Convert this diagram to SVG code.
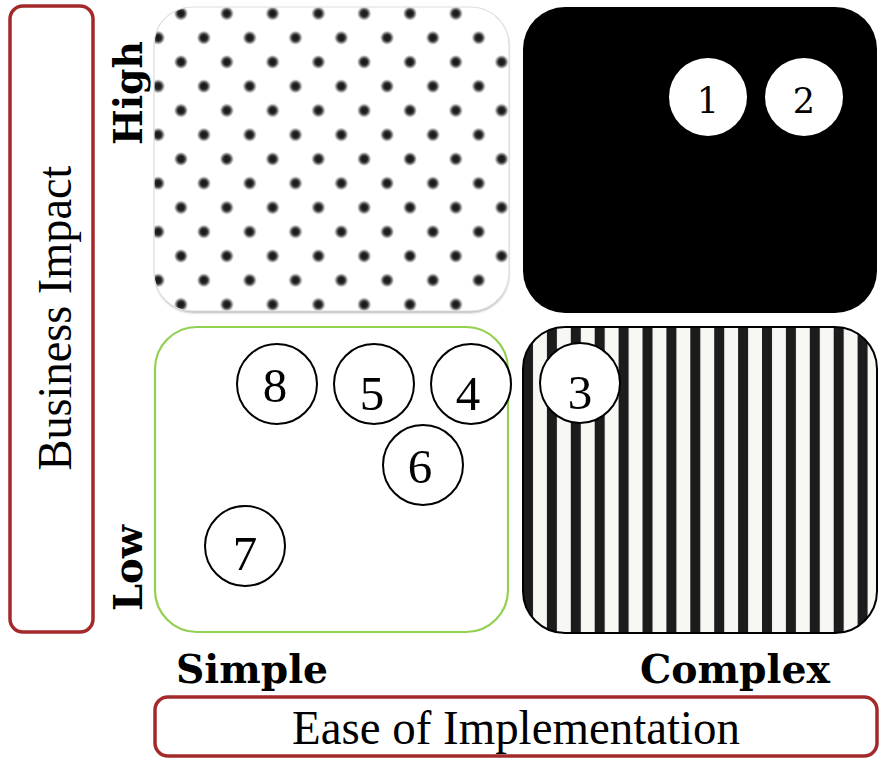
<svg xmlns="http://www.w3.org/2000/svg" width="896" height="759" viewBox="0 0 896 759">
  <defs>
    <radialGradient id="dotGrad">
      <stop offset="0" stop-color="#141414"/>
      <stop offset="0.45" stop-color="#262626"/>
      <stop offset="0.75" stop-color="#777" stop-opacity="0.65"/>
      <stop offset="1" stop-color="#fff" stop-opacity="0"/>
    </radialGradient>
    <pattern id="dots" patternUnits="userSpaceOnUse" x="181" y="13.5" width="45.8" height="48.5">
      <rect width="45.8" height="48.5" fill="#ffffff"/>
      <circle cx="0" cy="0" r="7.5" fill="url(#dotGrad)"/>
      <circle cx="45.8" cy="0" r="7.5" fill="url(#dotGrad)"/>
      <circle cx="0" cy="48.5" r="7.5" fill="url(#dotGrad)"/>
      <circle cx="45.8" cy="48.5" r="7.5" fill="url(#dotGrad)"/>
      <circle cx="22.9" cy="24.25" r="7.5" fill="url(#dotGrad)"/>
    </pattern>
    <pattern id="stripes" patternUnits="userSpaceOnUse" x="523" y="0" width="23.9" height="20">
      <rect width="23.9" height="20" fill="#f7f7f3"/>
      <rect width="10" height="20" fill="#1c1c1c"/>
    </pattern>
    <filter id="soft" x="-5%" y="-5%" width="110%" height="115%">
      <feGaussianBlur stdDeviation="1.2"/>
    </filter>
  </defs>
  <style>
    .axisbox { fill: #ffffff; stroke: #a3292a; stroke-width: 3.5; }
    .axis { font-family: "Liberation Serif", "Times New Roman", serif; font-size: 49px; fill: #000; }
    .level { font-family: "DejaVu Serif", "Liberation Serif", serif; font-weight: bold; font-size: 39px; fill: #000; }
    .node { fill: #ffffff; stroke: #000; stroke-width: 2; }
    .nodeW { fill: #ffffff; stroke: none; }
    .num { font-family: "Liberation Serif", "Times New Roman", serif; font-size: 49px; fill: #000; text-anchor: middle; }
    .numC { font-family: "DejaVu Serif", "Liberation Serif", serif; font-size: 35px; fill: #000; text-anchor: middle; }
  </style>

  <rect width="896" height="759" fill="#ffffff"/>

  <!-- Quadrants -->
  <g id="quad-high-simple">
    <rect x="155" y="9" width="354" height="304" rx="38" fill="#b8b8b8" filter="url(#soft)"/>
    <rect x="154" y="7" width="355" height="304" rx="38" fill="url(#dots)" stroke="#dedede" stroke-width="1.2"/>
  </g>
  <g id="quad-high-complex">
    <rect x="523" y="7" width="354" height="306" rx="42" fill="#000000"/>
  </g>
  <g id="quad-low-simple">
    <rect x="155" y="327" width="353" height="305" rx="42" fill="#ffffff" stroke="#92d050" stroke-width="2.2"/>
  </g>
  <g id="quad-low-complex">
    <rect x="523" y="327" width="354" height="306" rx="42" fill="url(#stripes)" stroke="#000" stroke-width="2"/>
  </g>

  <g id="connectors"/>

  <!-- Numbered items -->
  <g id="item-1">
    <circle class="nodeW" cx="708" cy="97" r="39"/>
    <text class="numC" x="708" y="113">1</text>
  </g>
  <g id="item-2">
    <circle class="nodeW" cx="804" cy="97" r="39"/>
    <text class="numC" x="804" y="113">2</text>
  </g>
  <g id="item-3">
    <circle class="node" cx="580" cy="383" r="40"/>
    <text class="num" x="580" y="409">3</text>
  </g>
  <g id="item-4">
    <circle class="node" cx="471" cy="384" r="40"/>
    <text class="num" x="468" y="410">4</text>
  </g>
  <g id="item-5">
    <circle class="node" cx="374" cy="384" r="40"/>
    <text class="num" x="372" y="410">5</text>
  </g>
  <g id="item-6">
    <circle class="node" cx="423" cy="465" r="40"/>
    <text class="num" x="420" y="483">6</text>
  </g>
  <g id="item-7">
    <circle class="node" cx="245" cy="546" r="40"/>
    <text class="num" x="245" y="570">7</text>
  </g>
  <g id="item-8">
    <circle class="node" cx="277" cy="384" r="40"/>
    <text class="num" x="275" y="402">8</text>
  </g>

  <!-- Axis labels -->
  <g id="axis-business-impact">
    <rect class="axisbox" x="10" y="6" width="83" height="626" rx="13"/>
    <text class="axis" transform="translate(71,318) rotate(-90)" text-anchor="middle" textLength="305" lengthAdjust="spacingAndGlyphs">Business Impact</text>
  </g>
  <g id="axis-ease">
    <rect class="axisbox" x="155" y="697" width="722" height="59" rx="13"/>
    <text class="axis" x="516" y="744" text-anchor="middle" textLength="448" lengthAdjust="spacingAndGlyphs">Ease of Implementation</text>
  </g>
  <g id="level-high">
    <text class="level" transform="translate(142,93) rotate(-90)" text-anchor="middle" textLength="104" lengthAdjust="spacingAndGlyphs">High</text>
  </g>
  <g id="level-low">
    <text class="level" transform="translate(142,568) rotate(-90)" text-anchor="middle" textLength="86" lengthAdjust="spacingAndGlyphs">Low</text>
  </g>
  <g id="level-simple">
    <text class="level" x="176" y="683" textLength="152" lengthAdjust="spacingAndGlyphs">Simple</text>
  </g>
  <g id="level-complex">
    <text class="level" x="640" y="683" textLength="190" lengthAdjust="spacingAndGlyphs">Complex</text>
  </g>
</svg>
